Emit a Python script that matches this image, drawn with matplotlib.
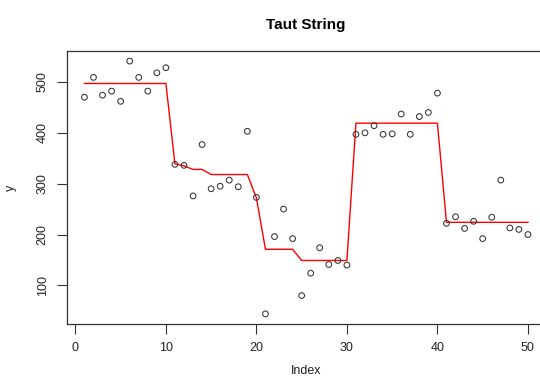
import matplotlib
matplotlib.use("Agg")
import matplotlib.pyplot as plt
import numpy as np

plt.rcParams['font.family'] = ['Liberation Sans', 'DejaVu Sans']

# Observations (index 1..50)
index = list(range(1, 51))
y = [470, 509, 474, 482, 462, 541, 509, 482, 518, 528,
     338, 336, 276, 377, 290, 295, 307, 294, 403, 273,
     44, 196, 250, 192, 80, 124, 174, 141, 149, 140,
     397, 400, 414, 397, 398, 437, 397, 432, 440, 478,
     222, 235, 212, 226, 192, 234, 307, 213, 210, 200]

# Taut string fit
fit = [497, 497, 497, 497, 497, 497, 497, 497, 497, 497,
       339, 335, 328, 328, 318, 318, 318, 318, 318, 272,
       171, 171, 171, 171, 149, 149, 149, 149, 149, 149,
       419, 419, 419, 419, 419, 419, 419, 419, 419, 419,
       224, 224, 224, 224, 224, 224, 224, 224, 224, 224]

xticks = [0, 10, 20, 30, 40, 50]
yticks = [100, 200, 300, 400, 500]

fig = plt.figure(figsize=(5.4, 3.8), dpi=100)
ax = fig.add_axes([0.1235, 0.1474, 0.887, 0.7184])

ax.scatter(index, y, s=17, facecolors='none', edgecolors='#333333', linewidths=0.75, zorder=3)
ax.plot(index, fit, color='#ff0000', lw=1.0, zorder=2)

xr = (max(index) - min(index)) * 0.04
yr = (max(y) - min(y)) * 0.04
ax.set_xlim(min(index) - xr, max(index) + xr)
ax.set_ylim(min(y) - yr, max(y) + yr)

ax.set_xticks(xticks)
ax.set_yticks(yticks)
ax.set_yticklabels([str(v) for v in yticks], rotation=90, va='center')
ax.tick_params(axis='both', length=7, width=0.8, color='#333333', labelsize=9,
               labelcolor='#222222', pad=6)

for name, s in ax.spines.items():
    s.set_linewidth(0.9)
    s.set_color('#333333')
ax.spines['right'].set_visible(False)

ax.set_xlabel('Index', fontsize=9, color='#222222', labelpad=8)
ax.set_ylabel('y', fontsize=9, color='#222222', labelpad=14)
ax.set_title('Taut String', fontsize=11, fontweight='bold', pad=16)

fig.savefig('out.png', dpi=100)
